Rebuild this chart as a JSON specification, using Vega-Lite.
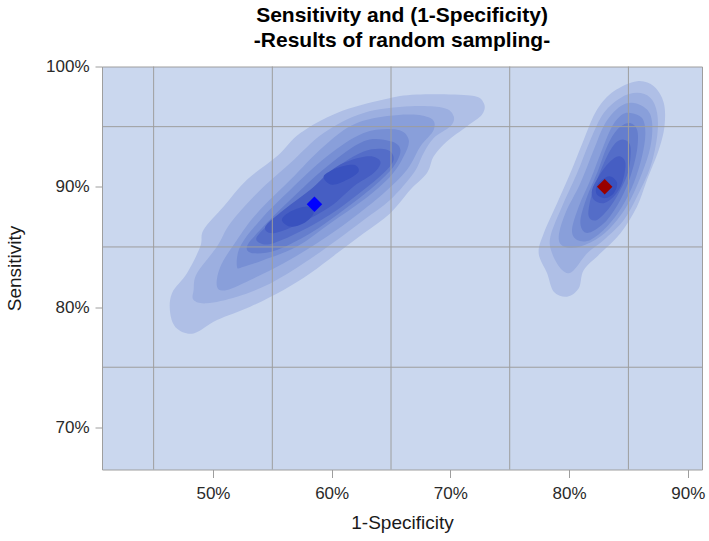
{
"$schema": "https://vega.github.io/schema/vega-lite/v6.json",
"width": 600, "height": 403,
"autosize": {"type": "none"},
"padding": {"left": 102, "top": 66.5, "right": 7, "bottom": 71.5},
"background": "white",
"config": {"font": "Liberation Sans", "view": {"fill": "#cad7ee", "stroke": "#9e9e9e", "strokeWidth": 1}},
"title": {"text": ["Sensitivity and (1-Specificity)", "-Results of random sampling-"], "fontSize": 21, "fontWeight": "bold", "color": "#000000", "lineHeight": 25, "frame": "group", "anchor": "middle", "offset": 7, "font": "Liberation Sans"},
"datasets": {
"contours": [
{"p":"L1","l":1,"i":0,"x":46.54,"y":81.14},{"p":"L1","l":1,"i":1,"x":47.81,"y":82.81},{"p":"L1","l":1,"i":2,"x":48.93,"y":85.03},{"p":"L1","l":1,"i":3,"x":49.21,"y":86.42},{"p":"L1","l":1,"i":4,"x":50.90,"y":88.36},{"p":"L1","l":1,"i":5,"x":52.86,"y":90.58},{"p":"L1","l":1,"i":6,"x":55.39,"y":92.53},{"p":"L1","l":1,"i":7,"x":57.36,"y":94.47},{"p":"L1","l":1,"i":8,"x":60.45,"y":96.14},{"p":"L1","l":1,"i":9,"x":64.38,"y":97.25},{"p":"L1","l":1,"i":10,"x":67.19,"y":97.67},{"p":"L1","l":1,"i":11,"x":71.69,"y":97.58},{"p":"L1","l":1,"i":12,"x":72.81,"y":96.97},{"p":"L1","l":1,"i":13,"x":72.67,"y":96.00},{"p":"L1","l":1,"i":14,"x":71.41,"y":95.03},{"p":"L1","l":1,"i":15,"x":69.72,"y":93.78},{"p":"L1","l":1,"i":16,"x":68.60,"y":92.53},{"p":"L1","l":1,"i":17,"x":68.03,"y":91.14},{"p":"L1","l":1,"i":18,"x":66.63,"y":89.75},{"p":"L1","l":1,"i":19,"x":64.94,"y":87.81},{"p":"L1","l":1,"i":20,"x":62.70,"y":86.14},{"p":"L1","l":1,"i":21,"x":60.45,"y":84.47},{"p":"L1","l":1,"i":22,"x":58.20,"y":82.81},{"p":"L1","l":1,"i":23,"x":55.95,"y":81.42},{"p":"L1","l":1,"i":24,"x":53.14,"y":80.03},{"p":"L1","l":1,"i":25,"x":50.34,"y":78.92},{"p":"L1","l":1,"i":26,"x":48.37,"y":77.81},{"p":"L1","l":1,"i":27,"x":46.96,"y":78.22},{"p":"L1","l":1,"i":28,"x":46.40,"y":79.47},
{"p":"R1","l":1,"i":0,"x":85.73,"y":98.78},{"p":"R1","l":1,"i":1,"x":87.14,"y":98.36},{"p":"R1","l":1,"i":2,"x":87.98,"y":96.97},{"p":"R1","l":1,"i":3,"x":88.04,"y":95.03},{"p":"R1","l":1,"i":4,"x":87.56,"y":93.08},{"p":"R1","l":1,"i":5,"x":86.57,"y":90.58},{"p":"R1","l":1,"i":6,"x":85.73,"y":88.36},{"p":"R1","l":1,"i":7,"x":84.33,"y":86.14},{"p":"R1","l":1,"i":8,"x":82.64,"y":84.47},{"p":"R1","l":1,"i":9,"x":81.24,"y":83.08},{"p":"R1","l":1,"i":10,"x":80.82,"y":81.56},{"p":"R1","l":1,"i":11,"x":79.83,"y":80.86},{"p":"R1","l":1,"i":12,"x":78.71,"y":81.28},{"p":"R1","l":1,"i":13,"x":78.15,"y":82.81},{"p":"R1","l":1,"i":14,"x":77.44,"y":84.47},{"p":"R1","l":1,"i":15,"x":77.87,"y":86.14},{"p":"R1","l":1,"i":16,"x":78.99,"y":88.64},{"p":"R1","l":1,"i":17,"x":80.11,"y":91.14},{"p":"R1","l":1,"i":18,"x":81.24,"y":93.92},{"p":"R1","l":1,"i":19,"x":82.36,"y":96.42},{"p":"R1","l":1,"i":20,"x":83.77,"y":97.94},
{"p":"L2","l":2,"i":0,"x":48.37,"y":81.42},{"p":"L2","l":2,"i":1,"x":48.65,"y":82.81},{"p":"L2","l":2,"i":2,"x":50.34,"y":85.03},{"p":"L2","l":2,"i":3,"x":51.46,"y":86.97},{"p":"L2","l":2,"i":4,"x":53.71,"y":89.47},{"p":"L2","l":2,"i":5,"x":56.52,"y":91.97},{"p":"L2","l":2,"i":6,"x":59.32,"y":94.47},{"p":"L2","l":2,"i":7,"x":62.70,"y":96.14},{"p":"L2","l":2,"i":8,"x":66.63,"y":96.69},{"p":"L2","l":2,"i":9,"x":69.44,"y":96.56},{"p":"L2","l":2,"i":10,"x":70.28,"y":95.86},{"p":"L2","l":2,"i":11,"x":70.00,"y":95.03},{"p":"L2","l":2,"i":12,"x":68.60,"y":94.06},{"p":"L2","l":2,"i":13,"x":67.75,"y":92.81},{"p":"L2","l":2,"i":14,"x":66.91,"y":91.14},{"p":"L2","l":2,"i":15,"x":64.94,"y":88.92},{"p":"L2","l":2,"i":16,"x":62.70,"y":87.25},{"p":"L2","l":2,"i":17,"x":60.45,"y":85.58},{"p":"L2","l":2,"i":18,"x":57.64,"y":83.64},{"p":"L2","l":2,"i":19,"x":54.83,"y":81.97},{"p":"L2","l":2,"i":20,"x":52.02,"y":80.86},{"p":"L2","l":2,"i":21,"x":49.49,"y":80.31},{"p":"L2","l":2,"i":22,"x":48.37,"y":80.58},
{"p":"R2","l":2,"i":0,"x":85.73,"y":97.81},{"p":"R2","l":2,"i":1,"x":86.86,"y":97.39},{"p":"R2","l":2,"i":2,"x":87.42,"y":96.14},{"p":"R2","l":2,"i":3,"x":87.42,"y":94.19},{"p":"R2","l":2,"i":4,"x":86.86,"y":91.69},{"p":"R2","l":2,"i":5,"x":85.73,"y":89.19},{"p":"R2","l":2,"i":6,"x":84.61,"y":87.25},{"p":"R2","l":2,"i":7,"x":82.92,"y":85.58},{"p":"R2","l":2,"i":8,"x":81.52,"y":84.47},{"p":"R2","l":2,"i":9,"x":80.25,"y":82.94},{"p":"R2","l":2,"i":10,"x":79.41,"y":83.08},{"p":"R2","l":2,"i":11,"x":78.57,"y":84.47},{"p":"R2","l":2,"i":12,"x":78.43,"y":85.86},{"p":"R2","l":2,"i":13,"x":79.41,"y":88.36},{"p":"R2","l":2,"i":14,"x":80.68,"y":91.14},{"p":"R2","l":2,"i":15,"x":81.80,"y":93.92},{"p":"R2","l":2,"i":16,"x":82.92,"y":96.14},{"p":"R2","l":2,"i":17,"x":84.33,"y":97.39},
{"p":"L3","l":3,"i":0,"x":50.34,"y":81.69},{"p":"L3","l":3,"i":1,"x":50.62,"y":83.36},{"p":"L3","l":3,"i":2,"x":52.02,"y":85.58},{"p":"L3","l":3,"i":3,"x":53.71,"y":87.81},{"p":"L3","l":3,"i":4,"x":56.52,"y":90.58},{"p":"L3","l":3,"i":5,"x":59.32,"y":93.36},{"p":"L3","l":3,"i":6,"x":62.13,"y":95.31},{"p":"L3","l":3,"i":7,"x":66.07,"y":96.00},{"p":"L3","l":3,"i":8,"x":68.31,"y":95.72},{"p":"L3","l":3,"i":9,"x":68.60,"y":94.75},{"p":"L3","l":3,"i":10,"x":67.47,"y":93.36},{"p":"L3","l":3,"i":11,"x":66.35,"y":91.42},{"p":"L3","l":3,"i":12,"x":64.38,"y":89.47},{"p":"L3","l":3,"i":13,"x":61.57,"y":87.25},{"p":"L3","l":3,"i":14,"x":58.76,"y":85.31},{"p":"L3","l":3,"i":15,"x":55.95,"y":83.64},{"p":"L3","l":3,"i":16,"x":53.14,"y":82.25},{"p":"L3","l":3,"i":17,"x":51.18,"y":81.42},
{"p":"R3","l":3,"i":0,"x":85.45,"y":96.97},{"p":"R3","l":3,"i":1,"x":86.57,"y":96.42},{"p":"R3","l":3,"i":2,"x":87.00,"y":95.31},{"p":"R3","l":3,"i":3,"x":86.86,"y":93.36},{"p":"R3","l":3,"i":4,"x":86.15,"y":91.14},{"p":"R3","l":3,"i":5,"x":85.17,"y":88.92},{"p":"R3","l":3,"i":6,"x":84.05,"y":87.25},{"p":"R3","l":3,"i":7,"x":82.64,"y":85.86},{"p":"R3","l":3,"i":8,"x":80.96,"y":85.03},{"p":"R3","l":3,"i":9,"x":79.55,"y":85.03},{"p":"R3","l":3,"i":10,"x":79.13,"y":85.86},{"p":"R3","l":3,"i":11,"x":79.69,"y":87.81},{"p":"R3","l":3,"i":12,"x":80.96,"y":90.31},{"p":"R3","l":3,"i":13,"x":82.08,"y":93.08},{"p":"R3","l":3,"i":14,"x":83.06,"y":95.31},{"p":"R3","l":3,"i":15,"x":84.33,"y":96.69},
{"p":"L4","l":4,"i":0,"x":52.02,"y":83.36},{"p":"L4","l":4,"i":1,"x":52.30,"y":85.03},{"p":"L4","l":4,"i":2,"x":53.99,"y":87.25},{"p":"L4","l":4,"i":3,"x":56.52,"y":89.75},{"p":"L4","l":4,"i":4,"x":59.61,"y":92.53},{"p":"L4","l":4,"i":5,"x":62.70,"y":94.47},{"p":"L4","l":4,"i":6,"x":65.51,"y":94.75},{"p":"L4","l":4,"i":7,"x":66.49,"y":93.92},{"p":"L4","l":4,"i":8,"x":66.07,"y":92.53},{"p":"L4","l":4,"i":9,"x":64.94,"y":90.86},{"p":"L4","l":4,"i":10,"x":62.70,"y":88.92},{"p":"L4","l":4,"i":11,"x":59.89,"y":86.97},{"p":"L4","l":4,"i":12,"x":57.08,"y":85.03},{"p":"L4","l":4,"i":13,"x":54.27,"y":83.92},{"p":"L4","l":4,"i":14,"x":52.58,"y":83.36},
{"p":"R4","l":4,"i":0,"x":85.17,"y":96.14},{"p":"R4","l":4,"i":1,"x":86.15,"y":95.72},{"p":"R4","l":4,"i":2,"x":86.43,"y":94.47},{"p":"R4","l":4,"i":3,"x":86.15,"y":92.53},{"p":"R4","l":4,"i":4,"x":85.45,"y":90.31},{"p":"R4","l":4,"i":5,"x":84.47,"y":88.36},{"p":"R4","l":4,"i":6,"x":83.20,"y":86.69},{"p":"R4","l":4,"i":7,"x":81.80,"y":85.58},{"p":"R4","l":4,"i":8,"x":80.68,"y":85.58},{"p":"R4","l":4,"i":9,"x":80.25,"y":86.42},{"p":"R4","l":4,"i":10,"x":80.82,"y":88.36},{"p":"R4","l":4,"i":11,"x":81.80,"y":90.58},{"p":"R4","l":4,"i":12,"x":82.78,"y":93.08},{"p":"R4","l":4,"i":13,"x":83.63,"y":95.03},{"p":"R4","l":4,"i":14,"x":84.47,"y":96.00},
{"p":"L5","l":5,"i":0,"x":52.86,"y":85.03},{"p":"L5","l":5,"i":1,"x":53.99,"y":86.42},{"p":"L5","l":5,"i":2,"x":56.52,"y":88.92},{"p":"L5","l":5,"i":3,"x":59.61,"y":91.69},{"p":"L5","l":5,"i":4,"x":62.70,"y":93.78},{"p":"L5","l":5,"i":5,"x":64.94,"y":93.78},{"p":"L5","l":5,"i":6,"x":65.79,"y":93.08},{"p":"L5","l":5,"i":7,"x":65.22,"y":91.69},{"p":"L5","l":5,"i":8,"x":63.54,"y":90.03},{"p":"L5","l":5,"i":9,"x":61.01,"y":88.08},{"p":"L5","l":5,"i":10,"x":58.20,"y":86.14},{"p":"L5","l":5,"i":11,"x":55.39,"y":84.75},{"p":"L5","l":5,"i":12,"x":53.43,"y":84.47},
{"p":"R5","l":5,"i":0,"x":85.03,"y":95.31},{"p":"R5","l":5,"i":1,"x":85.73,"y":94.75},{"p":"R5","l":5,"i":2,"x":85.73,"y":93.08},{"p":"R5","l":5,"i":3,"x":85.17,"y":90.86},{"p":"R5","l":5,"i":4,"x":84.33,"y":88.92},{"p":"R5","l":5,"i":5,"x":83.20,"y":87.25},{"p":"R5","l":5,"i":6,"x":81.94,"y":86.28},{"p":"R5","l":5,"i":7,"x":81.24,"y":86.28},{"p":"R5","l":5,"i":8,"x":80.96,"y":87.25},{"p":"R5","l":5,"i":9,"x":81.52,"y":89.19},{"p":"R5","l":5,"i":10,"x":82.36,"y":91.14},{"p":"R5","l":5,"i":11,"x":83.20,"y":93.36},{"p":"R5","l":5,"i":12,"x":84.05,"y":94.75},
{"p":"L6","l":6,"i":0,"x":53.71,"y":85.86},{"p":"L6","l":6,"i":1,"x":55.11,"y":87.25},{"p":"L6","l":6,"i":2,"x":57.64,"y":89.19},{"p":"L6","l":6,"i":3,"x":60.17,"y":91.42},{"p":"L6","l":6,"i":4,"x":62.70,"y":92.94},{"p":"L6","l":6,"i":5,"x":64.66,"y":93.08},{"p":"L6","l":6,"i":6,"x":65.22,"y":92.25},{"p":"L6","l":6,"i":7,"x":64.38,"y":91.14},{"p":"L6","l":6,"i":8,"x":62.70,"y":89.75},{"p":"L6","l":6,"i":9,"x":60.45,"y":88.08},{"p":"L6","l":6,"i":10,"x":57.64,"y":86.42},{"p":"L6","l":6,"i":11,"x":55.11,"y":85.31},{"p":"L6","l":6,"i":12,"x":53.99,"y":85.31},
{"p":"R6","l":6,"i":0,"x":84.61,"y":93.92},{"p":"R6","l":6,"i":1,"x":85.17,"y":93.36},{"p":"R6","l":6,"i":2,"x":85.03,"y":91.42},{"p":"R6","l":6,"i":3,"x":84.33,"y":89.75},{"p":"R6","l":6,"i":4,"x":83.48,"y":88.36},{"p":"R6","l":6,"i":5,"x":82.36,"y":87.25},{"p":"R6","l":6,"i":6,"x":81.66,"y":87.53},{"p":"R6","l":6,"i":7,"x":81.80,"y":88.92},{"p":"R6","l":6,"i":8,"x":82.36,"y":90.58},{"p":"R6","l":6,"i":9,"x":83.20,"y":92.53},{"p":"R6","l":6,"i":10,"x":83.91,"y":93.64},
{"p":"L7","l":7,"i":0,"x":54.41,"y":86.69},{"p":"L7","l":7,"i":1,"x":55.95,"y":88.08},{"p":"L7","l":7,"i":2,"x":58.20,"y":89.75},{"p":"L7","l":7,"i":3,"x":60.45,"y":91.69},{"p":"L7","l":7,"i":4,"x":62.98,"y":92.53},{"p":"L7","l":7,"i":5,"x":64.10,"y":92.11},{"p":"L7","l":7,"i":6,"x":63.54,"y":91.14},{"p":"L7","l":7,"i":7,"x":61.85,"y":90.03},{"p":"L7","l":7,"i":8,"x":59.89,"y":88.36},{"p":"L7","l":7,"i":9,"x":57.36,"y":86.97},{"p":"L7","l":7,"i":10,"x":55.11,"y":86.14},
{"p":"R7","l":7,"i":0,"x":84.19,"y":92.53},{"p":"R7","l":7,"i":1,"x":84.75,"y":91.97},{"p":"R7","l":7,"i":2,"x":84.47,"y":90.31},{"p":"R7","l":7,"i":3,"x":83.77,"y":89.19},{"p":"R7","l":7,"i":4,"x":82.92,"y":88.64},{"p":"R7","l":7,"i":5,"x":82.08,"y":88.92},{"p":"R7","l":7,"i":6,"x":81.94,"y":89.75},{"p":"R7","l":7,"i":7,"x":82.50,"y":90.86},{"p":"R7","l":7,"i":8,"x":83.34,"y":91.97},
{"p":"L8a","l":8,"i":0,"x":55.81,"y":87.25},{"p":"L8a","l":8,"i":1,"x":56.52,"y":87.94},{"p":"L8a","l":8,"i":2,"x":57.92,"y":88.36},{"p":"L8a","l":8,"i":3,"x":58.48,"y":87.81},{"p":"L8a","l":8,"i":4,"x":57.64,"y":86.97},{"p":"L8a","l":8,"i":5,"x":56.52,"y":86.69},
{"p":"L8b","l":8,"i":0,"x":59.32,"y":90.86},{"p":"L8b","l":8,"i":1,"x":60.45,"y":91.56},{"p":"L8b","l":8,"i":2,"x":61.85,"y":91.83},{"p":"L8b","l":8,"i":3,"x":62.27,"y":91.28},{"p":"L8b","l":8,"i":4,"x":61.29,"y":90.58},{"p":"L8b","l":8,"i":5,"x":60.03,"y":90.17},
{"p":"R8","l":8,"i":0,"x":83.48,"y":90.86},{"p":"R8","l":8,"i":1,"x":84.05,"y":90.31},{"p":"R8","l":8,"i":2,"x":83.77,"y":89.47},{"p":"R8","l":8,"i":3,"x":83.06,"y":89.06},{"p":"R8","l":8,"i":4,"x":82.36,"y":89.33},{"p":"R8","l":8,"i":5,"x":82.30,"y":90.03},{"p":"R8","l":8,"i":6,"x":82.78,"y":90.58}
],
"gridx": [{"x":45},{"x":55},{"x":65},{"x":75},{"x":85}],
"gridy": [{"y":75},{"y":85},{"y":95}],
"points": [{"g":"A","x":58.55,"y":88.55},{"g":"B","x":83.0,"y":90.0}]
},
"layer": [
{"data": {"name": "contours"},
 "mark": {"type": "line", "interpolate": "cardinal-closed", "filled": true, "strokeWidth": 0, "opacity": 1},
 "encoding": {
  "x": {"field": "x", "type": "quantitative", "scale": {"domain": [40.65, 91.2], "nice": false, "zero": false},
        "axis": {"title": "1-Specificity", "values": [50,60,70,80,90], "labelExpr": "datum.value + '%'", "grid": false, "domain": false, "tickColor": "#9e9e9e", "tickSize": 8, "labelPadding": 8, "labelFontSize": 17, "labelColor": "#2a2a2a", "labelFont": "Liberation Sans", "titleFont": "Liberation Sans", "titleFontSize": 19, "titleFontWeight": "normal", "titleColor": "#1a1a1a", "titlePadding": 12}},
  "y": {"field": "y", "type": "quantitative", "scale": {"domain": [66.5, 100], "nice": false, "zero": false},
        "axis": {"title": "Sensitivity", "values": [70,80,90,100], "labelExpr": "datum.value + '%'", "grid": false, "domain": false, "tickColor": "#9e9e9e", "tickSize": 7, "labelPadding": 6, "labelFontSize": 17, "labelColor": "#2a2a2a", "labelFont": "Liberation Sans", "titleFont": "Liberation Sans", "titleFontSize": 19, "titleFontWeight": "normal", "titleColor": "#1a1a1a", "titlePadding": 21}},
  "order": {"field": "i", "type": "quantitative"},
  "detail": {"field": "p", "type": "nominal"},
  "fill": {"field": "l", "type": "ordinal", "scale": {"range": ["#afbfe6","#9cafe0","#899fda","#778fd4","#657ecd","#546dc8","#465ec3","#3952bf"]}, "legend": null}
 }},
{"data": {"name": "gridx"},
 "mark": {"type": "rule", "color": "#9e9e9e", "strokeWidth": 1},
 "encoding": {"x": {"field": "x", "type": "quantitative"}}},
{"data": {"name": "gridy"},
 "mark": {"type": "rule", "color": "#9e9e9e", "strokeWidth": 1},
 "encoding": {"y": {"field": "y", "type": "quantitative"}}},
{"data": {"name": "points"},
 "mark": {"type": "point", "shape": "diamond", "filled": true, "size": 240, "opacity": 1},
 "encoding": {
  "x": {"field": "x", "type": "quantitative"},
  "y": {"field": "y", "type": "quantitative"},
  "color": {"field": "g", "type": "nominal", "scale": {"domain": ["A","B"], "range": ["#0000ff","#990000"]}, "legend": null}
 }}
]
}
